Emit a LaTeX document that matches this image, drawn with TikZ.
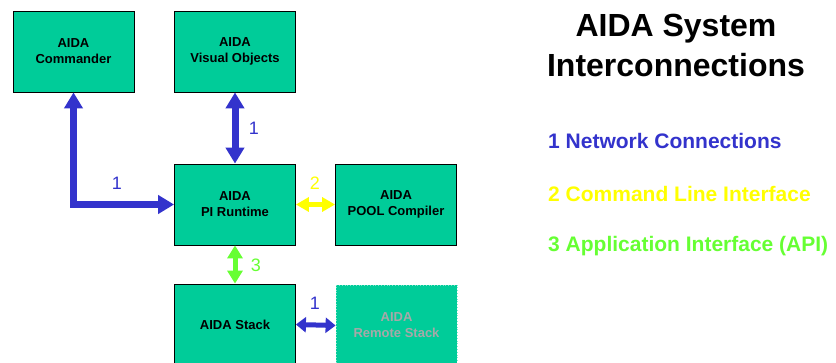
\documentclass[tikz,border=0pt]{standalone}
\usepackage{fontspec}
\setmainfont{Liberation Sans}
\usetikzlibrary{arrows.meta}
\definecolor{boxgreen}{HTML}{00CC99}
\definecolor{netblue}{HTML}{3333CC}
\definecolor{cliyellow}{HTML}{FFFF00}
\definecolor{apigreen}{HTML}{66FF33}
\definecolor{remotegray}{HTML}{A8A8A8}
\definecolor{remoteedge}{HTML}{80E6CC}
\begin{document}
\begin{tikzpicture}[x=1pt,y=-1pt,
  box/.style={draw=black, line width=0.8pt, fill=boxgreen, minimum width=121pt, minimum height=81pt,
    inner sep=0pt, align=center, font=\fontsize{13}{16}\selectfont\bfseries},
  remotebox/.style={box, draw=remoteedge, dotted, text=remotegray},
  bigarrow/.style={line width=7pt, draw=netblue, >={Triangle[width=18pt,length=16pt]}, <->},
  netarrow/.style={line width=5pt, draw=netblue, >={Triangle[width=15pt,length=10pt]}, <->},
  cliarrow/.style={line width=5pt, draw=cliyellow, >={Triangle[width=14pt,length=13pt]}, <->},
  apiarrow/.style={line width=5pt, draw=apigreen, >={Triangle[width=15pt,length=13pt]}, <->},
  numlabel/.style={font=\fontsize{18}{20}\selectfont, inner sep=0pt},
  legend/.style={anchor=base west, inner sep=0pt, font=\fontsize{21}{24}\selectfont\bfseries}
]
\useasboundingbox (0,0) rectangle (836,363);

\node[box] (cmd) at (73.5,51.5) {AIDA\\Commander};
\node[box] (vis) at (235,51.5) {AIDA\\Visual Objects};
\node[box] (pi) at (235,204.5) {AIDA\\PI Runtime};
\node[box] (pool) at (396,204.5) {AIDA\\POOL Compiler};
\node[box] (stack) at (235,324.5) {AIDA Stack};
\node[remotebox] (remote) at (396.5,325.5) {AIDA\\Remote Stack};

\draw[bigarrow] (cmd.south) |- (pi.west);
\draw[bigarrow] (vis.south) -- (pi.north);
\draw[cliarrow] (pi.east) -- (pool.west);
\draw[apiarrow] (pi.south) -- (stack.north);
\draw[netarrow] (stack.east) -- (remote.west);

\node[numlabel, text=netblue] (l1a) at (117,183) {1};
\node[numlabel, text=netblue] (l1b) at (254,128) {1};
\node[numlabel, text=cliyellow] (l2) at (315,183) {2};
\node[numlabel, text=apigreen] (l3) at (256,265) {3};
\node[numlabel, text=netblue] (l1c) at (315,303) {1};

\node[inner sep=0pt, align=center, font=\fontsize{32}{40}\selectfont\bfseries] (title) at (676,45.5) {AIDA System\\Interconnections};

\node[legend, text=netblue] (leg1) at (548,149) {1 Network Connections};
\node[legend, text=cliyellow] (leg2) at (548,202) {2 Command Line Interface};
\node[legend, text=apigreen] (leg3) at (548,252) {3 Application Interface (API)};
\end{tikzpicture}
\end{document}
